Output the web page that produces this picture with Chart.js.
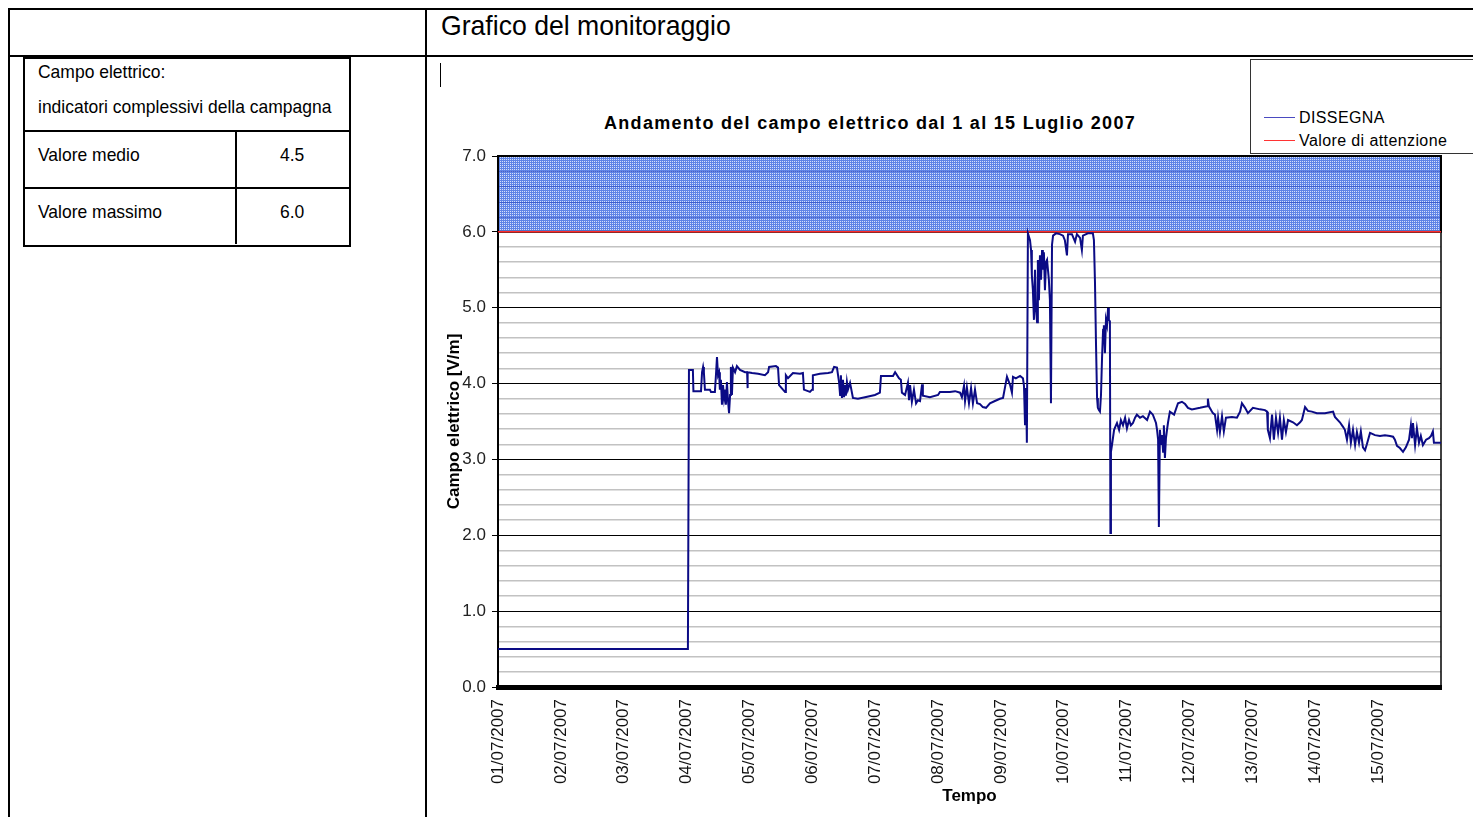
<!DOCTYPE html>
<html>
<head>
<meta charset="utf-8">
<script src="https://cdn.jsdelivr.net/npm/chart.js@4.4.0/dist/chart.umd.min.js"></script>
<style>
body{margin:0;width:1473px;height:817px;overflow:hidden;background:#fff;font-family:"Liberation Sans",Arial,sans-serif;position:relative}
.ln{position:absolute;background:#000}
.t{position:absolute;white-space:nowrap;color:#000;line-height:1;transform:translateY(-50%)}
.n{transform:translateY(-50%) scaleX(0.92);transform-origin:0 50%}
#c{position:absolute;left:427px;top:57px}
</style>
</head>
<body>
<!-- outer table -->
<div class="ln" style="left:8px;top:8px;width:1465px;height:2px"></div>
<div class="ln" style="left:8px;top:55px;width:1465px;height:2px"></div>
<div class="ln" style="left:8px;top:8px;width:2px;height:809px"></div>
<div class="ln" style="left:425px;top:8px;width:2px;height:809px"></div>
<div class="t n" style="left:441px;top:26px;font-size:28px;transform:translateY(-50%) scaleX(0.95)">Grafico del monitoraggio</div>
<div class="ln" style="left:440px;top:63px;width:1px;height:24px"></div>

<!-- indicators table -->
<div style="position:absolute;left:23px;top:57px;width:324px;height:186px;border:2px solid #000"></div>
<div class="ln" style="left:23px;top:130px;width:326px;height:2px"></div>
<div class="ln" style="left:23px;top:187px;width:326px;height:2px"></div>
<div class="ln" style="left:235px;top:130px;width:2px;height:114px"></div>
<div class="t n" style="left:38px;top:71px;font-size:19px">Campo elettrico:</div>
<div class="t n" style="left:38px;top:106px;font-size:19px">indicatori complessivi della campagna</div>
<div class="t n" style="left:38px;top:154px;font-size:19px">Valore medio</div>
<div class="t n" style="left:280px;top:154px;font-size:19px">4.5</div>
<div class="t n" style="left:38px;top:211px;font-size:19px">Valore massimo</div>
<div class="t n" style="left:280px;top:211px;font-size:19px">6.0</div>

<!-- chart title and legend -->
<div class="t" style="left:604px;top:123px;font-size:18px;font-weight:bold;letter-spacing:1.3px">Andamento del campo elettrico dal 1 al 15 Luglio 2007</div>
<div style="position:absolute;left:1250px;top:59px;width:240px;height:93px;border:1px solid #333"></div>
<div class="ln" style="left:1264px;top:117px;width:31px;height:1px;background:#4a4ac0"></div>
<div class="t" style="left:1299px;top:118px;font-size:16px;letter-spacing:0.4px">DISSEGNA</div>
<div class="ln" style="left:1264px;top:140px;width:31px;height:1px;background:#ff3333"></div>
<div class="t" style="left:1299px;top:141px;font-size:16px;letter-spacing:0.4px">Valore di attenzione</div>

<canvas id="c" width="1046" height="760"></canvas>
<script>
// time in hours from 01/07/2007 00:00, field in V/m
const hoursFromStart = [
  0, 72.5, 72.9, 74.4, 74.6, 77.5, 77.9, 78.3, 78.6, 79.0,
  80.9, 81.3, 82.8, 83.2, 83.6, 84.0, 84.4, 84.7, 85.1, 85.5,
  85.9, 86.3, 86.7, 87.0, 87.4, 87.8, 88.2, 88.6, 88.9, 89.3,
  89.7, 90.5, 91.2, 92.4, 94.3, 95.1, 95.2, 95.4, 97.0, 99.3,
  101.9, 103.1, 103.5, 106.1, 106.9, 107.3, 108.8, 109.6, 109.9, 110.7,
  112.6, 115.3, 116.4, 116.8, 119.1, 119.9, 120.2, 122.9, 126.0, 127.5,
  128.3, 129.4, 130.2, 130.6, 130.9, 131.3, 131.7, 132.1, 132.5, 132.8,
  133.2, 133.6, 134.4, 135.5, 137.4, 140.1, 143.9, 145.8, 146.2, 150.8,
  151.6, 153.1, 153.8, 154.2, 155.4, 156.5, 156.9, 157.3, 158.0, 158.8,
  159.6, 160.3, 161.1, 161.9, 162.2, 164.9, 168.0, 168.7, 172.5, 174.5,
  176.4, 177.1, 177.9, 178.3, 179.0, 179.8, 180.6, 181.3, 182.1, 182.9,
  184.0, 185.1, 186.3, 187.8, 189.7, 191.6, 192.8, 193.5, 194.3, 195.5,
  196.2, 196.6, 197.7, 199.3, 200.4, 200.8, 201.2, 201.6, 201.9, 202.3,
  203.1, 203.5, 203.8, 204.2, 204.6, 205.0, 205.4, 205.8, 206.1, 206.5,
  206.9, 207.3, 207.7, 208.0, 208.4, 208.8, 209.2, 209.6, 210.3, 210.7,
  211.1, 211.5, 211.9, 213.0, 214.5, 215.7, 216.4, 217.2, 217.6, 219.1,
  220.3, 221.0, 222.2, 222.9, 223.3, 225.2, 227.1, 227.5, 227.9, 228.3,
  228.7, 229.0, 229.4, 229.8, 230.2, 230.6, 231.0, 231.3, 231.7, 232.1,
  232.5, 232.9, 233.2, 233.6, 233.8, 234.0, 234.4, 235.2, 235.9, 236.3,
  237.1, 237.8, 238.6, 239.4, 240.1, 240.9, 241.6, 242.4, 243.2, 243.9,
  245.1, 246.2, 247.8, 248.9, 250.0, 251.2, 251.6, 252.0, 252.3, 252.7,
  253.1, 253.5, 253.9, 254.2, 254.6, 255.0, 255.4, 255.8, 256.5, 258.1,
  259.6, 261.1, 262.3, 263.4, 264.9, 268.0, 270.7, 271.0, 271.4, 272.9,
  273.7, 274.5, 274.9, 275.6, 276.4, 277.1, 277.9, 280.2, 282.1, 283.3,
  284.0, 285.2, 286.3, 288.2, 290.9, 292.8, 293.6, 293.9, 294.7, 295.5,
  296.2, 297.0, 297.8, 298.5, 299.3, 300.0, 300.8, 301.6, 303.5, 305.0,
  306.2, 306.9, 308.1, 309.2, 310.7, 312.6, 315.7, 318.8, 319.5, 321.4,
  322.6, 323.3, 324.1, 324.9, 325.6, 326.4, 327.2, 327.9, 328.7, 329.4,
  330.2, 331.0, 331.7, 332.9, 334.8, 336.7, 338.6, 340.5, 341.7, 342.4,
  343.2, 344.3, 345.5, 346.6, 347.8, 348.5, 348.9, 349.3, 350.1, 350.8,
  351.6, 352.3, 353.1, 354.3, 355.4, 356.2, 356.9, 357.3, 360.0
];
const fieldValues = [
  0.50, 0.50, 4.18, 4.18, 3.90, 3.90, 4.15, 4.22, 4.15, 3.92,
  3.92, 3.89, 3.89, 4.11, 4.35, 4.11, 4.15, 3.92, 4.05, 3.72,
  3.98, 3.81, 3.92, 3.72, 4.02, 3.78, 3.61, 3.85, 4.22, 3.85,
  4.21, 4.15, 4.23, 4.18, 4.15, 4.15, 3.94, 4.15, 4.14, 4.13,
  4.11, 4.15, 4.22, 4.23, 4.21, 3.98, 3.92, 3.89, 4.11, 4.07,
  4.14, 4.13, 4.14, 3.92, 3.89, 3.92, 4.11, 4.13, 4.14, 4.15,
  4.22, 4.21, 4.02, 3.85, 4.11, 3.81, 4.05, 3.82, 3.98, 3.84,
  4.02, 3.92, 4.01, 3.81, 3.80, 3.82, 3.85, 3.88, 4.10, 4.10,
  4.15, 4.07, 4.05, 3.88, 3.85, 4.01, 3.78, 3.98, 3.76, 3.92,
  3.74, 3.78, 3.77, 3.99, 3.84, 3.82, 3.85, 3.89, 3.89, 3.90,
  3.88, 3.82, 3.97, 3.77, 3.95, 3.74, 3.94, 3.74, 3.92, 3.74,
  3.73, 3.69, 3.68, 3.74, 3.77, 3.80, 3.81, 3.94, 4.09, 3.98,
  3.88, 4.09, 4.07, 4.10, 4.07, 3.97, 3.45, 3.94, 3.22, 5.98,
  5.89, 5.76, 5.43, 5.23, 4.84, 5.50, 4.97, 4.81, 5.63, 5.10,
  5.69, 5.37, 5.76, 5.50, 5.73, 5.23, 5.60, 5.63, 5.37, 5.10,
  3.74, 5.83, 5.95, 5.98, 5.97, 5.95, 5.89, 5.69, 5.97, 5.97,
  5.87, 5.97, 5.92, 5.76, 5.95, 5.98, 5.98, 5.89, 5.34, 4.51,
  3.81, 3.68, 3.65, 3.63, 3.85, 4.34, 4.71, 4.77, 4.40, 4.84,
  4.77, 5.00, 4.84, 4.82, 2.03, 3.10, 3.19, 3.39, 3.45, 3.48,
  3.39, 3.52, 3.45, 3.55, 3.41, 3.52, 3.45, 3.48, 3.55, 3.59,
  3.55, 3.57, 3.52, 3.63, 3.59, 3.48, 3.39, 3.26, 2.11, 3.39,
  3.19, 3.32, 3.10, 3.45, 3.02, 3.28, 3.39, 3.49, 3.63, 3.59,
  3.74, 3.76, 3.73, 3.68, 3.66, 3.68, 3.70, 3.80, 3.70, 3.61,
  3.59, 3.39, 3.55, 3.36, 3.57, 3.37, 3.55, 3.56, 3.55, 3.63,
  3.74, 3.68, 3.61, 3.68, 3.66, 3.65, 3.63, 3.39, 3.28, 3.59,
  3.26, 3.55, 3.35, 3.55, 3.26, 3.52, 3.36, 3.52, 3.49, 3.45,
  3.49, 3.52, 3.69, 3.64, 3.63, 3.61, 3.61, 3.63, 3.56, 3.49,
  3.43, 3.39, 3.26, 3.45, 3.22, 3.39, 3.19, 3.36, 3.22, 3.37,
  3.16, 3.12, 3.20, 3.35, 3.32, 3.31, 3.32, 3.31, 3.30, 3.26,
  3.18, 3.15, 3.10, 3.16, 3.26, 3.45, 3.28, 3.48, 3.19, 3.41,
  3.22, 3.31, 3.19, 3.26, 3.28, 3.31, 3.37, 3.22, 3.22
];
const alertLevel = 6.0;
const yMax = 7.0;
const totalHours = 360;
const dayLabels = ['01/07/2007','02/07/2007','03/07/2007','04/07/2007','05/07/2007',
  '06/07/2007','07/07/2007','08/07/2007','09/07/2007','10/07/2007','11/07/2007',
  '12/07/2007','13/07/2007','14/07/2007','15/07/2007'];

const fieldPoints = hoursFromStart.map((h, i) => ({x: h, y: fieldValues[i]}));
const isMajor = v => Math.abs(v - Math.round(v)) < 1e-6;

// hatched blue fill for the zone above the attention value
const pc = document.createElement('canvas');
pc.width = 4; pc.height = 4;
const pcx = pc.getContext('2d');
pcx.fillStyle = '#d6e0fa'; pcx.fillRect(0, 0, 4, 4);
pcx.fillStyle = '#5f84e6';
pcx.fillRect(0, 0, 1, 4); pcx.fillRect(2, 0, 1, 4);
pcx.fillRect(0, 1, 4, 1); pcx.fillRect(0, 3, 4, 1);

const zonePlugin = {
  id: 'zone',
  beforeDatasetsDraw(chart) {
    const {ctx, chartArea, scales: {x, y}} = chart;
    const l = x.getPixelForValue(0), r = x.getPixelForValue(totalHours);
    const t = y.getPixelForValue(yMax), b = y.getPixelForValue(alertLevel);
    ctx.save();
    ctx.fillStyle = ctx.createPattern(pc, 'repeat');
    ctx.fillRect(l, t, r - l, b - t);
    ctx.strokeStyle = 'rgba(40,70,190,0.6)';
    ctx.lineWidth = 1;
    y.ticks.forEach(tk => {
      if (tk.value > alertLevel + 0.01 && tk.value < yMax - 0.01) {
        const py = Math.round(y.getPixelForValue(tk.value)) + 0.5;
        ctx.beginPath(); ctx.moveTo(l, py); ctx.lineTo(r, py); ctx.stroke();
      }
    });
    ctx.strokeStyle = '#000';
    ctx.lineWidth = 2;
    ctx.strokeRect(l, t, r - l, b - t);
    ctx.lineWidth = 1.5;
    ctx.beginPath(); ctx.moveTo(r, b); ctx.lineTo(r, chartArea.bottom); ctx.stroke();
    ctx.restore();
  }
};

new Chart('c', {
  type: 'line',
  data: {
    datasets: [
      {
        label: 'DISSEGNA',
        data: fieldPoints,
        borderColor: '#0b0b85',
        borderWidth: 2,
        pointRadius: 0,
        tension: 0
      },
      {
        label: 'Valore di attenzione',
        data: [{x: 0, y: alertLevel}, {x: totalHours, y: alertLevel}],
        borderColor: '#ff2a2a',
        borderWidth: 1.5,
        pointRadius: 0
      }
    ]
  },
  options: {
    responsive: false,
    animation: false,
    devicePixelRatio: 1,
    layout: {padding: {top: 99, left: 15, right: 32, bottom: 6}},
    plugins: {
      legend: {display: false},
      title: {display: false},
      tooltip: {enabled: false}
    },
    scales: {
      x: {
        type: 'linear',
        min: 0,
        max: totalHours,
        afterFit: s => { s.height = 124; },
        grid: {display: false},
        border: {display: true, color: '#000', width: 5},
        ticks: {
          stepSize: 24,
          autoSkip: false,
          maxRotation: 90,
          minRotation: 90,
          padding: 4,
          color: '#111',
          font: {family: '"Liberation Sans", Arial', size: 17},
          callback: v => dayLabels[Math.round(v / 24)] || ''
        },
        title: {
          display: true,
          text: 'Tempo',
          color: '#000',
          padding: 4,
          font: {family: '"Liberation Sans", Arial', size: 17, weight: 'bold'}
        }
      },
      y: {
        min: 0,
        max: yMax,
        afterFit: s => { s.width = 56; },
        border: {display: true, color: '#000', width: 2},
        grid: {
          color: c => isMajor(c.tick.value) ? '#000' : '#c2c2c2',
          lineWidth: c => isMajor(c.tick.value) ? 1 : 1.5,
          tickColor: c => isMajor(c.tick.value) ? '#000' : 'rgba(0,0,0,0)',
          tickLength: 6
        },
        ticks: {
          stepSize: 0.2,
          autoSkip: false,
          padding: 6,
          color: '#222',
          font: {family: '"Liberation Sans", Arial', size: 17},
          callback: v => isMajor(v) ? v.toFixed(1) : ''
        },
        title: {
          display: true,
          text: 'Campo elettrico [V/m]',
          color: '#000',
          padding: 2,
          font: {family: '"Liberation Sans", Arial', size: 17, weight: 'bold'}
        }
      }
    }
  },
  plugins: [zonePlugin]
});
</script>
</body>
</html>
